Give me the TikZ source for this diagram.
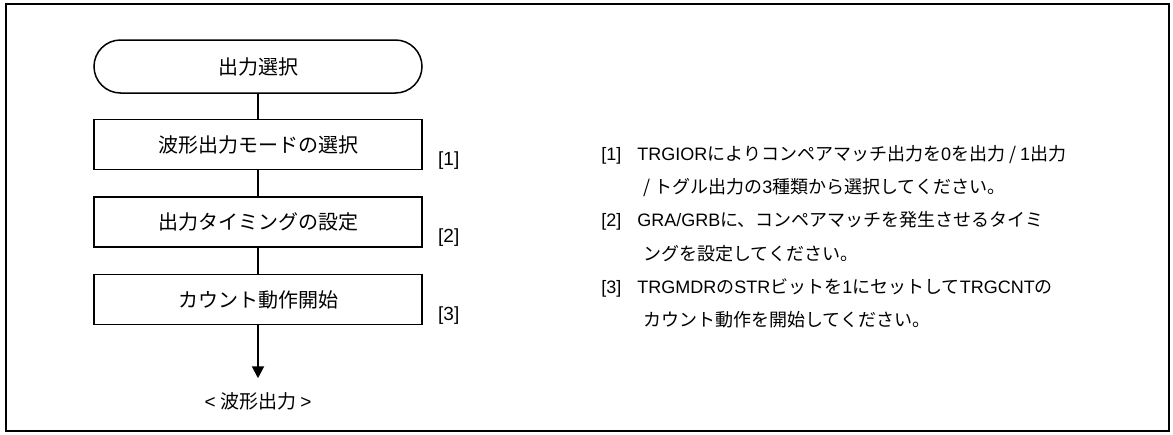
\documentclass[tikz,border=0pt]{standalone}
\usepackage{fontspec}
\setmainfont{Noto Sans CJK JP}
\newfontfamily\arial{Liberation Sans}
\usetikzlibrary{positioning, arrows.meta}

\begin{document}
\begin{tikzpicture}[x=0.5pt, y=-0.5pt,
    box/.style={draw, line width=0.75pt, minimum width=164pt, minimum height=25pt, font=\fontsize{10pt}{12pt}\selectfont},
    flow/.style={line width=1pt},
    num/.style={inner sep=0pt, font=\arial\fontsize{9.5pt}{11pt}\selectfont},
    note/.style={inner sep=0pt, anchor=base west, font=\fontsize{9pt}{10pt}\selectfont}]
    \useasboundingbox (0,0) rectangle (1173,434);
    \draw [line width=0.75pt] (6,4) rectangle (1169,431);
    % flowchart
    \node (start) [box, rounded corners=13.25pt, minimum height=26.5pt] at (258,66.5) {出力選択};
    \node (mode) [box, below=12.5pt of start] {波形出力モードの選択};
    \node (timing) [box, below=13pt of mode] {出力タイミングの設定};
    \node (count) [box, below=13pt of timing] {カウント動作開始};
    \node (wave) [below=26.5pt of count, minimum height=23pt, inner sep=0pt, font=\fontsize{9.5pt}{11pt}\selectfont] {{\arial<} 波形出力 {\arial>}};
    \draw [flow] (start) -- (mode);
    \draw [flow] (mode) -- (timing);
    \draw [flow] (timing) -- (count);
    \draw [flow, -{Triangle[length=6pt, width=6pt]}] (count) -- (wave);
    \node (num1) [num, right=7.5pt of mode.south east, yshift=5pt] {[1]};
    \node (num2) [num, right=7.5pt of timing.south east, yshift=5pt] {[2]};
    \node (num3) [num, right=7.5pt of count.south east, yshift=5pt] {[3]};
    % notes
    \node (item1) [note] at (601,160.5) {\arial [1]};
    \node (text1) [note] at (637,160.5) {{\arial TRGIOR}によりコンペアマッチ出力を{\arial 0}を出力 / {\arial 1}出力};
    \node (text1b) [note] at (643,193.5) {/ トグル出力の{\arial 3}種類から選択してください。};
    \node (item2) [note] at (601,226.5) {\arial [2]};
    \node (text2) [note] at (637,226.5) {{\arial GRA/GRB}に、コンペアマッチを発生させるタイミ};
    \node (text2b) [note] at (643,260.5) {ングを設定してください。};
    \node (item3) [note] at (601,293.5) {\arial [3]};
    \node (text3) [note] at (637,293.5) {{\arial TRGMDR}の{\arial STR}ビットを{\arial 1}にセットして{\arial TRGCNT}の};
    \node (text3b) [note] at (643,326.5) {カウント動作を開始してください。};
\end{tikzpicture}
\end{document}
